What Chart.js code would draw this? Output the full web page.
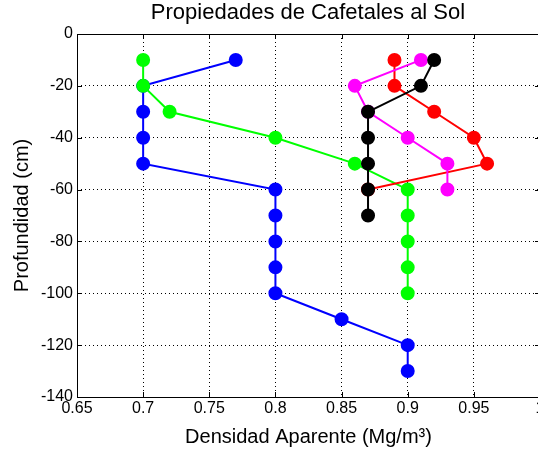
<!DOCTYPE html>
<html lang="es">
<head>
    <meta charset="UTF-8">
    <title>Propiedades de Cafetales al Sol</title>
    <script src="https://cdn.jsdelivr.net/npm/chart.js"></script>
    <style>
        html, body { margin: 0; padding: 0; overflow: hidden; background: #fff; }
        #wrap { position: absolute; left: 0; top: 0; width: 616px; height: 458px; }
    </style>
</head>
<body>
    <div id="wrap"><canvas id="perfil"></canvas></div>

    <script>
        // Densidad aparente (Mg/m3) por profundidad (cm)
        const profAzul = [-10, -20, -30, -40, -50, -60, -70, -80, -90, -100, -110, -120, -130];
        const densAzul = [0.77, 0.70, 0.70, 0.70, 0.70, 0.80, 0.80, 0.80, 0.80, 0.80, 0.85, 0.90, 0.90];

        const profVerde = [-10, -20, -30, -40, -50, -60, -70, -80, -90, -100];
        const densVerde = [0.70, 0.70, 0.72, 0.80, 0.86, 0.90, 0.90, 0.90, 0.90, 0.90];

        const profRojo = [-10, -20, -30, -40, -50, -60];
        const densRojo = [0.89, 0.89, 0.92, 0.95, 0.96, 0.87];

        const profMagenta = [-10, -20, -30, -40, -50, -60];
        const densMagenta = [0.91, 0.86, 0.87, 0.90, 0.93, 0.93];

        const profNegro = [-10, -20, -30, -40, -50, -60, -70];
        const densNegro = [0.92, 0.91, 0.87, 0.87, 0.87, 0.87, 0.87];

        const xTicks = [0.65, 0.7, 0.75, 0.8, 0.85, 0.9, 0.95, 1];
        const yTicks = [-140, -120, -100, -80, -60, -40, -20, 0];

        // order: el ultimo trazado (negro) queda encima, como en el original
        function serie(dens, prof, color, orden) {
            return {
                data: dens.map((d, i) => ({ x: d, y: prof[i] })),
                borderColor: color,
                backgroundColor: color,
                pointBackgroundColor: color,
                pointBorderColor: color,
                borderWidth: 2,
                pointRadius: 6,
                pointHoverRadius: 6,
                pointStyle: "circle",
                tension: 0,
                order: orden
            };
        }

        // caja del eje y marcas hacia adentro, como en MATLAB
        const cajaEjes = {
            id: "cajaEjes",
            afterDraw(chart) {
                const { ctx, chartArea: a, scales } = chart;
                ctx.save();
                ctx.strokeStyle = "#000";
                ctx.lineWidth = 1;
                ctx.strokeRect(a.left + 0.5, a.top + 0.5, a.right - a.left, a.bottom - a.top);
                ctx.beginPath();
                xTicks.forEach(v => {
                    const px = Math.round(scales.x.getPixelForValue(v)) + 0.5;
                    ctx.moveTo(px, a.bottom); ctx.lineTo(px, a.bottom - 5);
                    ctx.moveTo(px, a.top); ctx.lineTo(px, a.top + 5);
                });
                yTicks.forEach(v => {
                    const py = Math.round(scales.y.getPixelForValue(v)) + 0.5;
                    ctx.moveTo(a.left, py); ctx.lineTo(a.left + 5, py);
                    ctx.moveTo(a.right, py); ctx.lineTo(a.right - 5, py);
                });
                ctx.stroke();
                ctx.restore();
            }
        };

        Chart.defaults.font.family = "'Liberation Sans', Arial, sans-serif";
        Chart.defaults.color = "#000";

        new Chart(document.getElementById("perfil"), {
            type: "line",
            data: {
                datasets: [
                    serie(densAzul, profAzul, "#0000ff", 4),
                    serie(densVerde, profVerde, "#00ff00", 3),
                    serie(densRojo, profRojo, "#ff0000", 2),
                    serie(densMagenta, profMagenta, "#ff00ff", 1),
                    serie(densNegro, profNegro, "#000000", 0)
                ]
            },
            options: {
                responsive: true,
                maintainAspectRatio: false,
                animation: false,
                layout: { padding: 0 },
                plugins: {
                    legend: { display: false },
                    tooltip: { enabled: false },
                    title: {
                        display: true,
                        text: "Propiedades de Cafetales al Sol",
                        font: { size: 22, weight: "normal" },
                        color: "#000",
                        padding: { top: 0, bottom: 7.6 }
                    }
                },
                scales: {
                    x: {
                        type: "linear",
                        min: 0.65,
                        max: 1,
                        afterBuildTicks: s => { s.ticks = xTicks.map(v => ({ value: v })); },
                        afterFit: s => { s.height = 61; },
                        ticks: {
                            font: { size: 16 },
                            padding: 2,
                            maxRotation: 0,
                            callback: v => String(parseFloat(v.toFixed(2)))
                        },
                        grid: { color: "#000", lineWidth: 1, drawTicks: false },
                        border: { display: false, dash: [1, 3] },
                        title: {
                            display: true,
                            text: "Densidad Aparente (Mg/m³)",
                            font: { size: 20 },
                            padding: { top: 0, bottom: 9 }
                        }
                    },
                    y: {
                        type: "linear",
                        min: -140,
                        max: 0,
                        afterBuildTicks: s => { s.ticks = yTicks.map(v => ({ value: v })); },
                        afterFit: s => { s.width = 77; },
                        ticks: { font: { size: 16 }, padding: 4 },
                        grid: { color: "#000", lineWidth: 1, drawTicks: false },
                        border: { display: false, dash: [1, 3] },
                        title: {
                            display: true,
                            text: "Profundidad (cm)",
                            font: { size: 20 },
                            padding: { top: 10, bottom: 0 }
                        }
                    },
                    // eje vacio a la derecha: reserva el margen que queda fuera de la ventana
                    margen: {
                        type: "linear",
                        position: "right",
                        display: true,
                        afterFit: s => { s.width = 76; },
                        ticks: { display: false },
                        grid: { display: false, drawTicks: false },
                        border: { display: false }
                    }
                }
            },
            plugins: [cajaEjes]
        });
    </script>
</body>
</html>
